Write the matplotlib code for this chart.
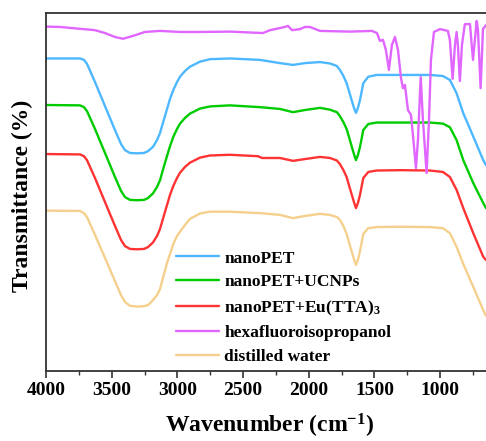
#!/usr/bin/env python3
# coding: utf-8
"""FTIR spectra of nanoPET samples, stacked with offsets."""

import matplotlib
matplotlib.use("Agg")
import matplotlib.pyplot as plt
from matplotlib.ticker import MultipleLocator

# -------- data (wavenumber cm^-1, transmittance in arbitrary offset units) ----------
WN_HFIP = [4000, 3893, 3627, 3551, 3475, 3414, 3338, 3247, 3132, 2980, 2828, 2600,
           2349, 2295, 2181, 2158, 2128, 2067, 2029, 1991, 1915, 1687, 1519, 1481,
           1458, 1435, 1413, 1390, 1367, 1344, 1321, 1298, 1283, 1268, 1245, 1222,
           1207, 1184, 1169, 1148, 1131, 1103, 1085, 1070, 1047, 1002, 941, 926,
           905, 887, 875, 865, 850, 834, 812, 773, 750, 722, 712, 692, 674, 651]
T_HFIP = [96.2, 96.1, 95.2, 94.4, 93.3, 92.8, 93.6, 94.7, 95.0, 94.7, 94.7, 94.8,
          94.4, 95.2, 96.1, 96.4, 95.2, 95.5, 96.1, 96.1, 95.0, 94.8, 95.0, 94.4,
          92.2, 92.5, 89.7, 84.1, 91.1, 93.3, 89.7, 81.8, 79.0, 79.9, 72.9, 71.5,
          65.9, 56.7, 64.5, 82.1, 70.1, 55.3, 70.1, 86.9, 94.7, 95.5, 95.0, 92.5,
          81.6, 91.1, 94.7, 91.1, 81.0, 91.1, 96.9, 96.9, 86.9, 97.8, 95.2, 79.0,
          95.5, 96.6]

# shared sampling for the four water-containing spectra
WN_BAND = [4000, 3741, 3711, 3688, 3627, 3551, 3475, 3429, 3399, 3361, 3308, 3254,
           3224, 3186, 3155, 3132, 3106, 3081, 3056, 3031, 3003, 2980, 2942, 2904,
           2828, 2752, 2600, 2371, 2219, 2120, 2029, 1915, 1839, 1786, 1763, 1736,
           1712, 1694, 1674, 1656, 1641, 1626, 1610, 1585, 1547, 1483, 1306, 1078,
           979, 926, 875, 824, 748, 672, 651]

T_PET = [87.3, 87.3, 86.9, 85.8, 80.7, 74.0, 67.3, 63.4, 61.7, 60.9, 60.8, 60.9,
         61.4, 62.6, 64.5, 66.5, 69.8, 72.9, 76.0, 78.5, 80.7, 82.2, 83.8, 85.0,
         86.4, 87.1, 87.3, 86.9, 86.0, 85.5, 86.0, 86.3, 85.9, 85.2, 84.1, 82.4,
         80.4, 78.2, 75.7, 73.5, 72.1, 73.5, 75.7, 80.4, 82.2, 82.7, 82.7, 82.7,
         82.4, 81.3, 77.6, 72.0, 65.5, 58.9, 57.5]

T_UCNP = [74.3, 74.2, 73.7, 72.6, 67.6, 60.9, 54.2, 50.3, 48.6, 47.8, 47.7, 47.8,
          48.3, 49.6, 51.4, 53.3, 56.7, 59.8, 62.8, 65.4, 67.6, 69.1, 70.7, 71.9,
          73.3, 73.9, 74.2, 73.7, 73.2, 72.3, 72.9, 73.5, 73.0, 72.3, 71.2, 69.5,
          67.6, 65.4, 62.8, 60.6, 58.9, 60.3, 62.6, 67.3, 69.0, 69.4, 69.4, 69.4,
          69.1, 68.1, 64.5, 58.9, 52.5, 46.9, 45.5]

WN_EU = [4000, 3741, 3711, 3688, 3627, 3551, 3475, 3429, 3399, 3361, 3308, 3254,
         3224, 3186, 3155, 3132, 3106, 3081, 3056, 3031, 3003, 2980, 2942, 2904,
         2828, 2752, 2600, 2387, 2356, 2219, 2120, 2029, 1915, 1839, 1786, 1763,
         1736, 1712, 1694, 1674, 1656, 1641, 1626, 1610, 1585, 1547, 1483, 1306,
         1078, 979, 926, 875, 824, 748, 672, 651]
T_EU = [60.6, 60.5, 60.0, 58.9, 53.9, 47.2, 40.5, 36.6, 34.9, 34.1, 34.0, 34.1,
        34.6, 35.9, 37.7, 39.7, 43.0, 46.1, 49.2, 51.7, 53.9, 55.4, 57.0, 58.2,
        59.6, 60.2, 60.4, 60.0, 59.5, 59.5, 58.7, 59.2, 59.8, 59.5, 58.8, 57.8,
        56.1, 54.2, 51.9, 49.4, 47.2, 45.5, 46.9, 49.2, 53.9, 55.6, 56.0, 56.1,
        56.0, 55.6, 54.2, 50.6, 45.5, 38.5, 31.9, 31.0]

T_WATER = [44.8, 44.7, 44.1, 43.0, 38.0, 31.6, 25.1, 21.2, 19.3, 18.2, 18.0, 18.1,
           18.4, 19.8, 21.2, 22.9, 26.5, 29.9, 32.7, 35.5, 37.7, 38.9, 40.8, 42.5,
           44.0, 44.5, 44.5, 44.1, 43.6, 42.7, 43.3, 43.9, 43.6, 43.0, 42.2, 40.5,
           38.3, 36.0, 33.5, 31.3, 29.6, 31.0, 33.5, 38.3, 39.9, 40.2, 40.3, 40.2,
           39.9, 38.5, 34.7, 29.9, 23.5, 17.0, 15.4]

LABELS = ["nanoPET", "nanoPET+UCNPs", "nanoPET+Eu(TTA)$_3$",
          "hexafluoroisopropanol", "distilled water"]
COLORS = ["#4db8ff", "#00cc00", "#ff3333", "#e066ff", "#f5d08c"]

# -------- style ----------
plt.rcParams["font.family"] = ["Liberation Serif", "DejaVu Serif"]
plt.rcParams["font.weight"] = "bold"
plt.rcParams["mathtext.fontset"] = "custom"
plt.rcParams["mathtext.rm"] = "Liberation Serif:bold"
plt.rcParams["mathtext.bf"] = "Liberation Serif:bold"
plt.rcParams["mathtext.it"] = "Liberation Serif:bold:italic"
plt.rcParams["mathtext.default"] = "rm"

fig = plt.figure(figsize=(4.86, 4.41), dpi=100)
ax = fig.add_axes([46 / 486, 70 / 441, 440 / 486, 358 / 441])

series = [(WN_BAND, T_PET), (WN_BAND, T_UCNP), (WN_EU, T_EU),
          (WN_HFIP, T_HFIP), (WN_BAND, T_WATER)]
for (wn, t), lab, col in zip(series, LABELS, COLORS):
    ax.plot(wn, t, color=col, lw=1.7, label=lab,
            solid_joinstyle="round", solid_capstyle="round")

ax.set_xlim(4000, 651)
ax.set_ylim(0, 100)
ax.xaxis.set_major_locator(MultipleLocator(500))
ax.xaxis.set_minor_locator(MultipleLocator(250))
ax.set_yticks([])
ax.tick_params(axis="x", which="major", direction="out", length=5, width=1.2,
               labelsize=14, pad=3, color="#333333", labelcolor="black")
ax.tick_params(axis="x", which="minor", direction="out", length=3, width=1.0,
               color="#333333")

for s in ["left", "bottom", "top"]:
    ax.spines[s].set_linewidth(1.3)
    ax.spines[s].set_color("#333333")
ax.spines["right"].set_visible(False)

ax.set_xlabel("Wavenumber (cm$^{-1}$)", fontsize=17, fontweight="bold")
ax.xaxis.set_label_coords(0.507, -0.113)
ax.set_ylabel("Transmittance (%)", fontsize=17, fontweight="bold")
ax.yaxis.set_label_coords(-0.03, 0.49)

leg = ax.legend(loc="upper left", bbox_to_anchor=(0.295, 0.337), frameon=False,
                fontsize=12.5, handlelength=2.5, handletextpad=0.3,
                labelspacing=0.45, borderaxespad=0, borderpad=0)
for t in leg.get_texts():
    t.set_fontweight("bold")

fig.savefig("out.png", dpi=100)
